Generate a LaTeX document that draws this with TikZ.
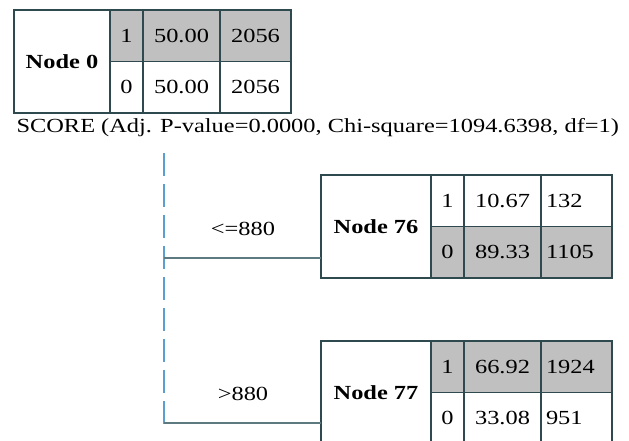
\documentclass[tikz,border=0pt]{standalone}
\usepackage{fontspec}
\setmainfont[FakeStretch=1.22]{Liberation Serif}
\usetikzlibrary{positioning}

\definecolor{rulecol}{HTML}{2F4A4F}
\definecolor{shadecol}{HTML}{C0C0C0}
\definecolor{splitcol}{HTML}{5A9FD0}
\definecolor{branchcol}{HTML}{5C7A80}

\tikzset{
  cell/.style={draw=rulecol, line width=1.8pt, rectangle, inner sep=0pt, outer sep=0pt,
               minimum height=51.5, font=\fontsize{20}{23}\selectfont},
  labelcell/.style={cell, font=\fontsize{20}{23}\selectfont\bfseries},
  lefttext/.style={text width=61, align=left},
  branch/.style={draw=branchcol, line width=2pt},
  split/.style={draw=splitcol, line width=1.5pt, dash pattern=on 23pt off 8pt}
}

% one row of a node table: category, percent, count
\newcommand{\catrow}[7]{%
  \node[cell, fill=#3, minimum width=33, anchor=north west] (#1c) at (#2) {#4};
  \node[cell, fill=#3, minimum width=77, anchor=north west] (#1p) at (#1c.north east) {#5};
  \node[cell, fill=#3, minimum width=71, anchor=north west, #7] (#1n) at (#1p.north east) {#6};
}

\begin{document}
\begin{tikzpicture}[x=1pt, y=-1pt]
                    \useasboundingbox (0,0) rectangle (629,441);

                    % root
                    \node[labelcell, minimum width=96, minimum height=103, anchor=north west] (n0) at (14,10) {Node 0};
                    \catrow{n0a}{n0.north east}{shadecol}{1}{50.00}{2056}{}
                    \catrow{n0b}{n0ac.south west}{white}{0}{50.00}{2056}{}

                    \node[anchor=west, font=\fontsize{20}{23}\selectfont] (score) at (13,128)
                      {SCORE (Adj. P-value=0.0000, Chi-square=1094.6398, df=1)};

                    % children
                    \node[labelcell, minimum width=110, minimum height=103, anchor=north west] (n76) at (321,175) {Node 76};
                    \catrow{n76a}{n76.north east}{white}{1}{10.67}{132}{lefttext}
                    \catrow{n76b}{n76ac.south west}{shadecol}{0}{89.33}{1105}{lefttext}

                    \node[labelcell, minimum width=110, minimum height=103, anchor=north west] (n77) at (321,341) {Node 77};
                    \catrow{n77a}{n77.north east}{shadecol}{1}{66.92}{1924}{lefttext}
                    \catrow{n77b}{n77ac.south west}{white}{0}{33.08}{951}{lefttext}

                    % split line and branches
                    \coordinate (top) at (164,153);
                    \coordinate (bot) at (164,430);
                    \coordinate (b76) at (164,258);
                    \coordinate (b77) at (164,423);

                    \draw[split] (top) -- (bot);
                    \draw[branch] (b76) -- (b76 -| n76.west);
                    \draw[branch] (b77) -- (b77 -| n77.west);

                    \node[font=\fontsize{20}{23}\selectfont] (le) at (243,229) {<=880};
                    \node[font=\fontsize{20}{23}\selectfont] (gt) at (243,394) {>880};

                \end{tikzpicture}
\end{document}
